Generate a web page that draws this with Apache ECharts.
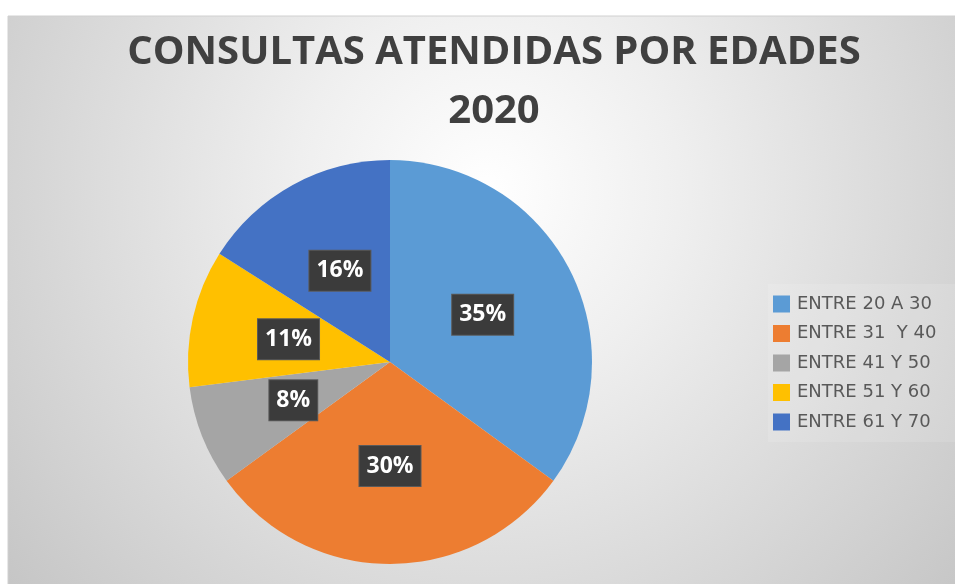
<!DOCTYPE html>
<html>
<head>
<meta charset="utf-8">
<title>Consultas atendidas por edades 2020</title>
<script src="https://cdn.jsdelivr.net/npm/echarts@6/dist/echarts.min.js"></script>
<style>
  html, body { margin: 0; padding: 0; background: #fff; }
  #chart { width: 955px; height: 584px; }
</style>
</head>
<body>
<div id="chart"></div>
<script>
// datos del grafico
var categorias = ['ENTRE 20 A 30', 'ENTRE 31  Y 40', 'ENTRE 41 Y 50', 'ENTRE 51 Y 60', 'ENTRE 61 Y 70']
var porcentajes = [35, 30, 8, 11, 16]
var colores = ['#5B9BD5', '#ED7D31', '#A5A5A5', '#FFC000', '#4472C4']

var chart = echarts.init(document.getElementById('chart'))

var datos = categorias.map(function (nombre, i) {
  return { name: nombre, value: porcentajes[i], itemStyle: { color: colores[i] } }
})

chart.setOption({
  animation: false,
  graphic: [
    {
      // fondo del area del grafico con degradado radial
      type: 'rect',
      silent: true,
      z: -10,
      shape: { x: 8, y: 16, width: 960, height: 580 },
      style: {
        fill: {
          type: 'radial',
          x: 0.5,
          y: 0.3,
          r: 1.1,
          colorStops: [
            { offset: 0, color: '#ffffff' },
            { offset: 0.3, color: '#efefef' },
            { offset: 1, color: '#c4c4c4' }
          ]
        },
        stroke: '#d0d0d0',
        lineWidth: 1
      }
    }
  ],
  title: {
    text: 'CONSULTAS ATENDIDAS POR EDADES\n2020',
    left: 489,
    top: 18,
    textAlign: 'center',
    textStyle: {
      fontFamily: 'Open Sans',
      fontWeight: 'bold',
      fontSize: 40,
      lineHeight: 59,
      color: '#404040'
    }
  },
  legend: {
    orient: 'vertical',
    left: 768,
    top: 284,
    padding: [11, 25, 11, 5],
    backgroundColor: 'rgba(255,255,255,0.12)',
    itemWidth: 17,
    itemHeight: 17,
    itemGap: 11.5,
    icon: 'rect',
    data: categorias,
    textStyle: {
      fontFamily: 'DejaVu Sans',
      fontSize: 18,
      lineHeight: 18,
      color: '#595959',
      padding: [0, 0, 0, 2]
    }
  },
  series: [
    {
      type: 'pie',
      center: [390, 362],
      radius: 202,
      startAngle: 90,
      clockwise: true,
      data: datos,
      itemStyle: { borderWidth: 0 },
      label: {
        position: 'inside',
        formatter: '{c}%',
        fontFamily: 'Open Sans',
        fontWeight: 'bold',
        fontSize: 23,
        lineHeight: 22,
        color: '#ffffff',
        backgroundColor: '#3b3b3b',
        borderColor: '#5a5a5a',
        borderWidth: 1,
        padding: [9, 7]
      },
      labelLine: { show: false },
      emphasis: { disabled: true }
    }
  ]
})
</script>
</body>
</html>
